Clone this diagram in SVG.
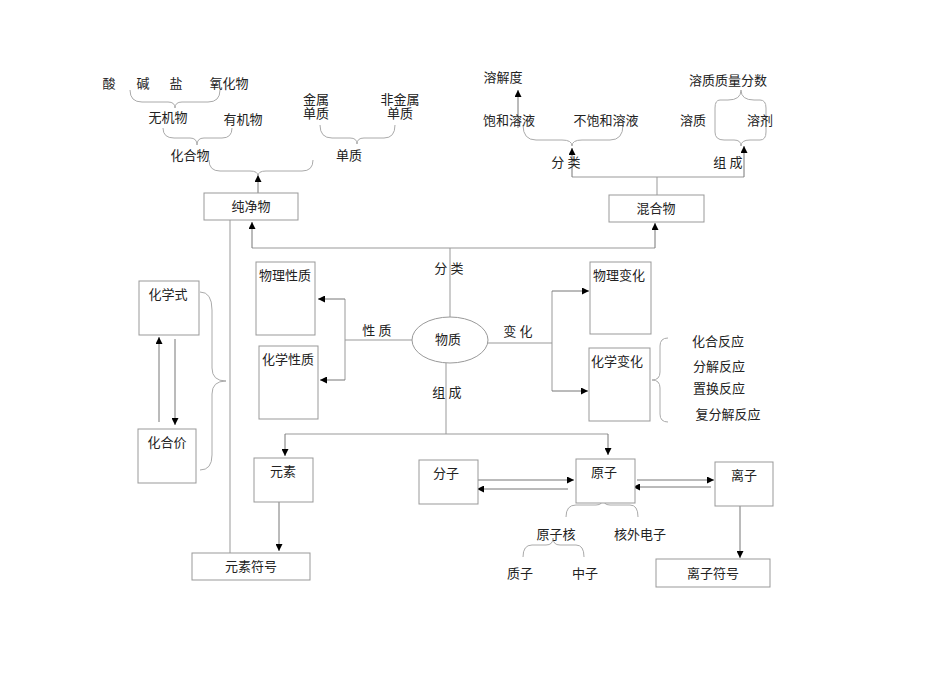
<svg xmlns="http://www.w3.org/2000/svg" width="950" height="673" viewBox="0 0 950 673">
<defs>
<marker id="ah" viewBox="0 0 10 10" refX="10" refY="5" markerWidth="7" markerHeight="7" orient="auto" markerUnits="userSpaceOnUse"><path d="M0,0L10,5L0,10z" fill="#000"/></marker>
<style>
text{font-family:"Liberation Serif","Noto Sans CJK SC",serif;font-size:13px;fill:#222;text-anchor:middle}
.b{fill:#fff;stroke:#999;stroke-width:1}
.l{fill:none;stroke:#999;stroke-width:1}
.a{fill:none;stroke:#777;stroke-width:1;marker-end:url(#ah)}
.br{fill:none;stroke:#aaa;stroke-width:1}
</style>
</defs>
<rect width="950" height="673" fill="#fff"/>
<g id="connectors">
<path class="l" d="M252,248H655"/>
<path class="a" d="M252,248V222"/>
<path class="a" d="M655,248V223"/>
<path class="l" d="M450,248V317"/>
<path class="l" d="M230,220V553"/>
<path class="a" d="M258,193V175"/>
<path class="l" d="M657,195V177M572,177H744"/>
<path class="a" d="M572,177V148"/>
<path class="a" d="M744,177V146"/>
<path class="a" d="M518,128V90"/>
<path class="l" d="M412,340H345M345,299V380"/>
<path class="a" d="M345,299H318"/>
<path class="a" d="M345,380H320"/>
<path class="l" d="M488,343H552M552,291V391"/>
<path class="a" d="M552,291H589"/>
<path class="a" d="M552,391H588"/>
<path class="l" d="M446,363V434M285,434H608"/>
<path class="a" d="M285,434V456"/>
<path class="a" d="M608,434V455"/>
<path class="a" d="M279,502V551"/>
<path class="a" d="M476,480H574"/>
<path class="a" d="M568,489H477"/>
<path class="a" d="M637,480H714"/>
<path class="a" d="M711,487H633"/>
<path class="a" d="M740,506V558"/>
<path class="a" d="M159,422V337"/>
<path class="a" d="M175,339V425"/>
<path class="br" d="M200,292Q212,292 212,310V368Q212,381 226,381Q212,381 212,394V455Q212,470 200,470"/>
<path class="br" d="M668,338Q660,338 660,346V372Q660,380 652,380Q660,380 660,388V414Q660,422 668,422"/>
<path class="br" d="M209,160Q209,171 220,171H250Q258,171 258,176Q258,171 266,171H302Q313,171 313,160"/>
<path class="br" d="M320,125Q320,138 332,138H350Q357,138 357,144Q357,138 364,138H384Q395,138 395,125"/>
<path class="br" d="M163,128Q163,138 174,138H190Q197,138 197,145Q197,138 204,138H222Q232,138 232,128"/>
<path class="br" d="M130,90Q130,102 142,102H168Q175,102 175,108Q175,102 182,102H208Q220,102 220,90"/>
<path class="br" d="M523,125Q523,140 536,140H562Q572,140 572,146Q572,140 582,140H610Q623,140 623,125"/>
<path class="br" d="M741,90Q741,100 728,100H720Q715,100 715,108V132Q715,140 724,140H734Q741,140 741,146Q741,140 750,140H760Q766,140 766,132V108Q766,100 760,100H754Q741,100 741,90"/>
<path class="br" d="M566,517Q566,505 576,505H596Q603,505 603,498Q603,505 610,505H630Q638,505 638,517"/>
<path class="br" d="M523,557Q523,545 532,545H546Q553,545 553,538Q553,545 560,545H576Q584,545 584,557"/>
</g>
<g id="n-chun"><rect class="b" x="204" y="193" width="94" height="27"/><text x="251" y="211">纯净物</text></g>
<g id="n-hun"><rect class="b" x="609" y="195" width="95" height="27"/><text x="656" y="213">混合物</text></g>
<g id="n-wuzhi"><ellipse cx="450" cy="340" rx="38" ry="23" fill="#fff" stroke="#999"/><text x="448" y="344">物质</text></g>
<g id="n-wlxz"><rect class="b" x="256" y="262" width="59" height="73"/><text x="285" y="280">物理性质</text></g>
<g id="n-hxxz"><rect class="b" x="259" y="346" width="59" height="73"/><text x="288" y="364">化学性质</text></g>
<g id="n-wlbh"><rect class="b" x="590" y="262" width="61" height="72"/><text x="619" y="280">物理变化</text></g>
<g id="n-hxbh"><rect class="b" x="589" y="348" width="61" height="73"/><text x="617" y="366">化学变化</text></g>
<g id="n-hxs"><rect class="b" x="139" y="281" width="60" height="54"/><text x="168" y="299">化学式</text></g>
<g id="n-hhj"><rect class="b" x="138" y="429" width="58" height="54"/><text x="167" y="447">化合价</text></g>
<g id="n-ys"><rect class="b" x="254" y="458" width="59" height="44"/><text x="283" y="476">元素</text></g>
<g id="n-ysfh"><rect class="b" x="192" y="553" width="118" height="27"/><text x="251" y="571">元素符号</text></g>
<g id="n-fz"><rect class="b" x="419" y="460" width="59" height="44"/><text x="446" y="478">分子</text></g>
<g id="n-yz"><rect class="b" x="576" y="459" width="59" height="44"/><text x="604" y="477">原子</text></g>
<g id="n-lz"><rect class="b" x="715" y="462" width="58" height="44"/><text x="744" y="480">离子</text></g>
<g id="n-lzfh"><rect class="b" x="656" y="559" width="114" height="28"/><text x="713" y="578">离子符号</text></g>
<g id="labels">
<text x="109" y="88">酸</text><text x="143" y="88">碱</text><text x="176" y="88">盐</text><text x="229" y="88">氧化物</text>
<text x="168" y="122">无机物</text><text x="243" y="124">有机物</text>
<text x="316" y="104">金属</text><text x="316" y="118">单质</text>
<text x="400" y="104">非金属</text><text x="400" y="118">单质</text>
<text x="190" y="160">化合物</text><text x="349" y="160">单质</text>
<text x="503" y="82">溶解度</text><text x="728" y="85">溶质质量分数</text>
<text x="509" y="125">饱和溶液</text><text x="606" y="125">不饱和溶液</text>
<text x="693" y="125">溶质</text><text x="760" y="125">溶剂</text>
<text x="566" y="167">分 类</text><text x="728" y="167">组 成</text>
<text x="449" y="273">分 类</text><text x="377" y="335">性 质</text><text x="518" y="336">变 化</text><text x="447" y="397">组 成</text>
<text x="718" y="346">化合反应</text><text x="719" y="371">分解反应</text><text x="719" y="393">置换反应</text><text x="728" y="419">复分解反应</text>
<text x="556" y="539">原子核</text><text x="640" y="539">核外电子</text>
<text x="520" y="578">质子</text><text x="585" y="578">中子</text>
</g>
</svg>
